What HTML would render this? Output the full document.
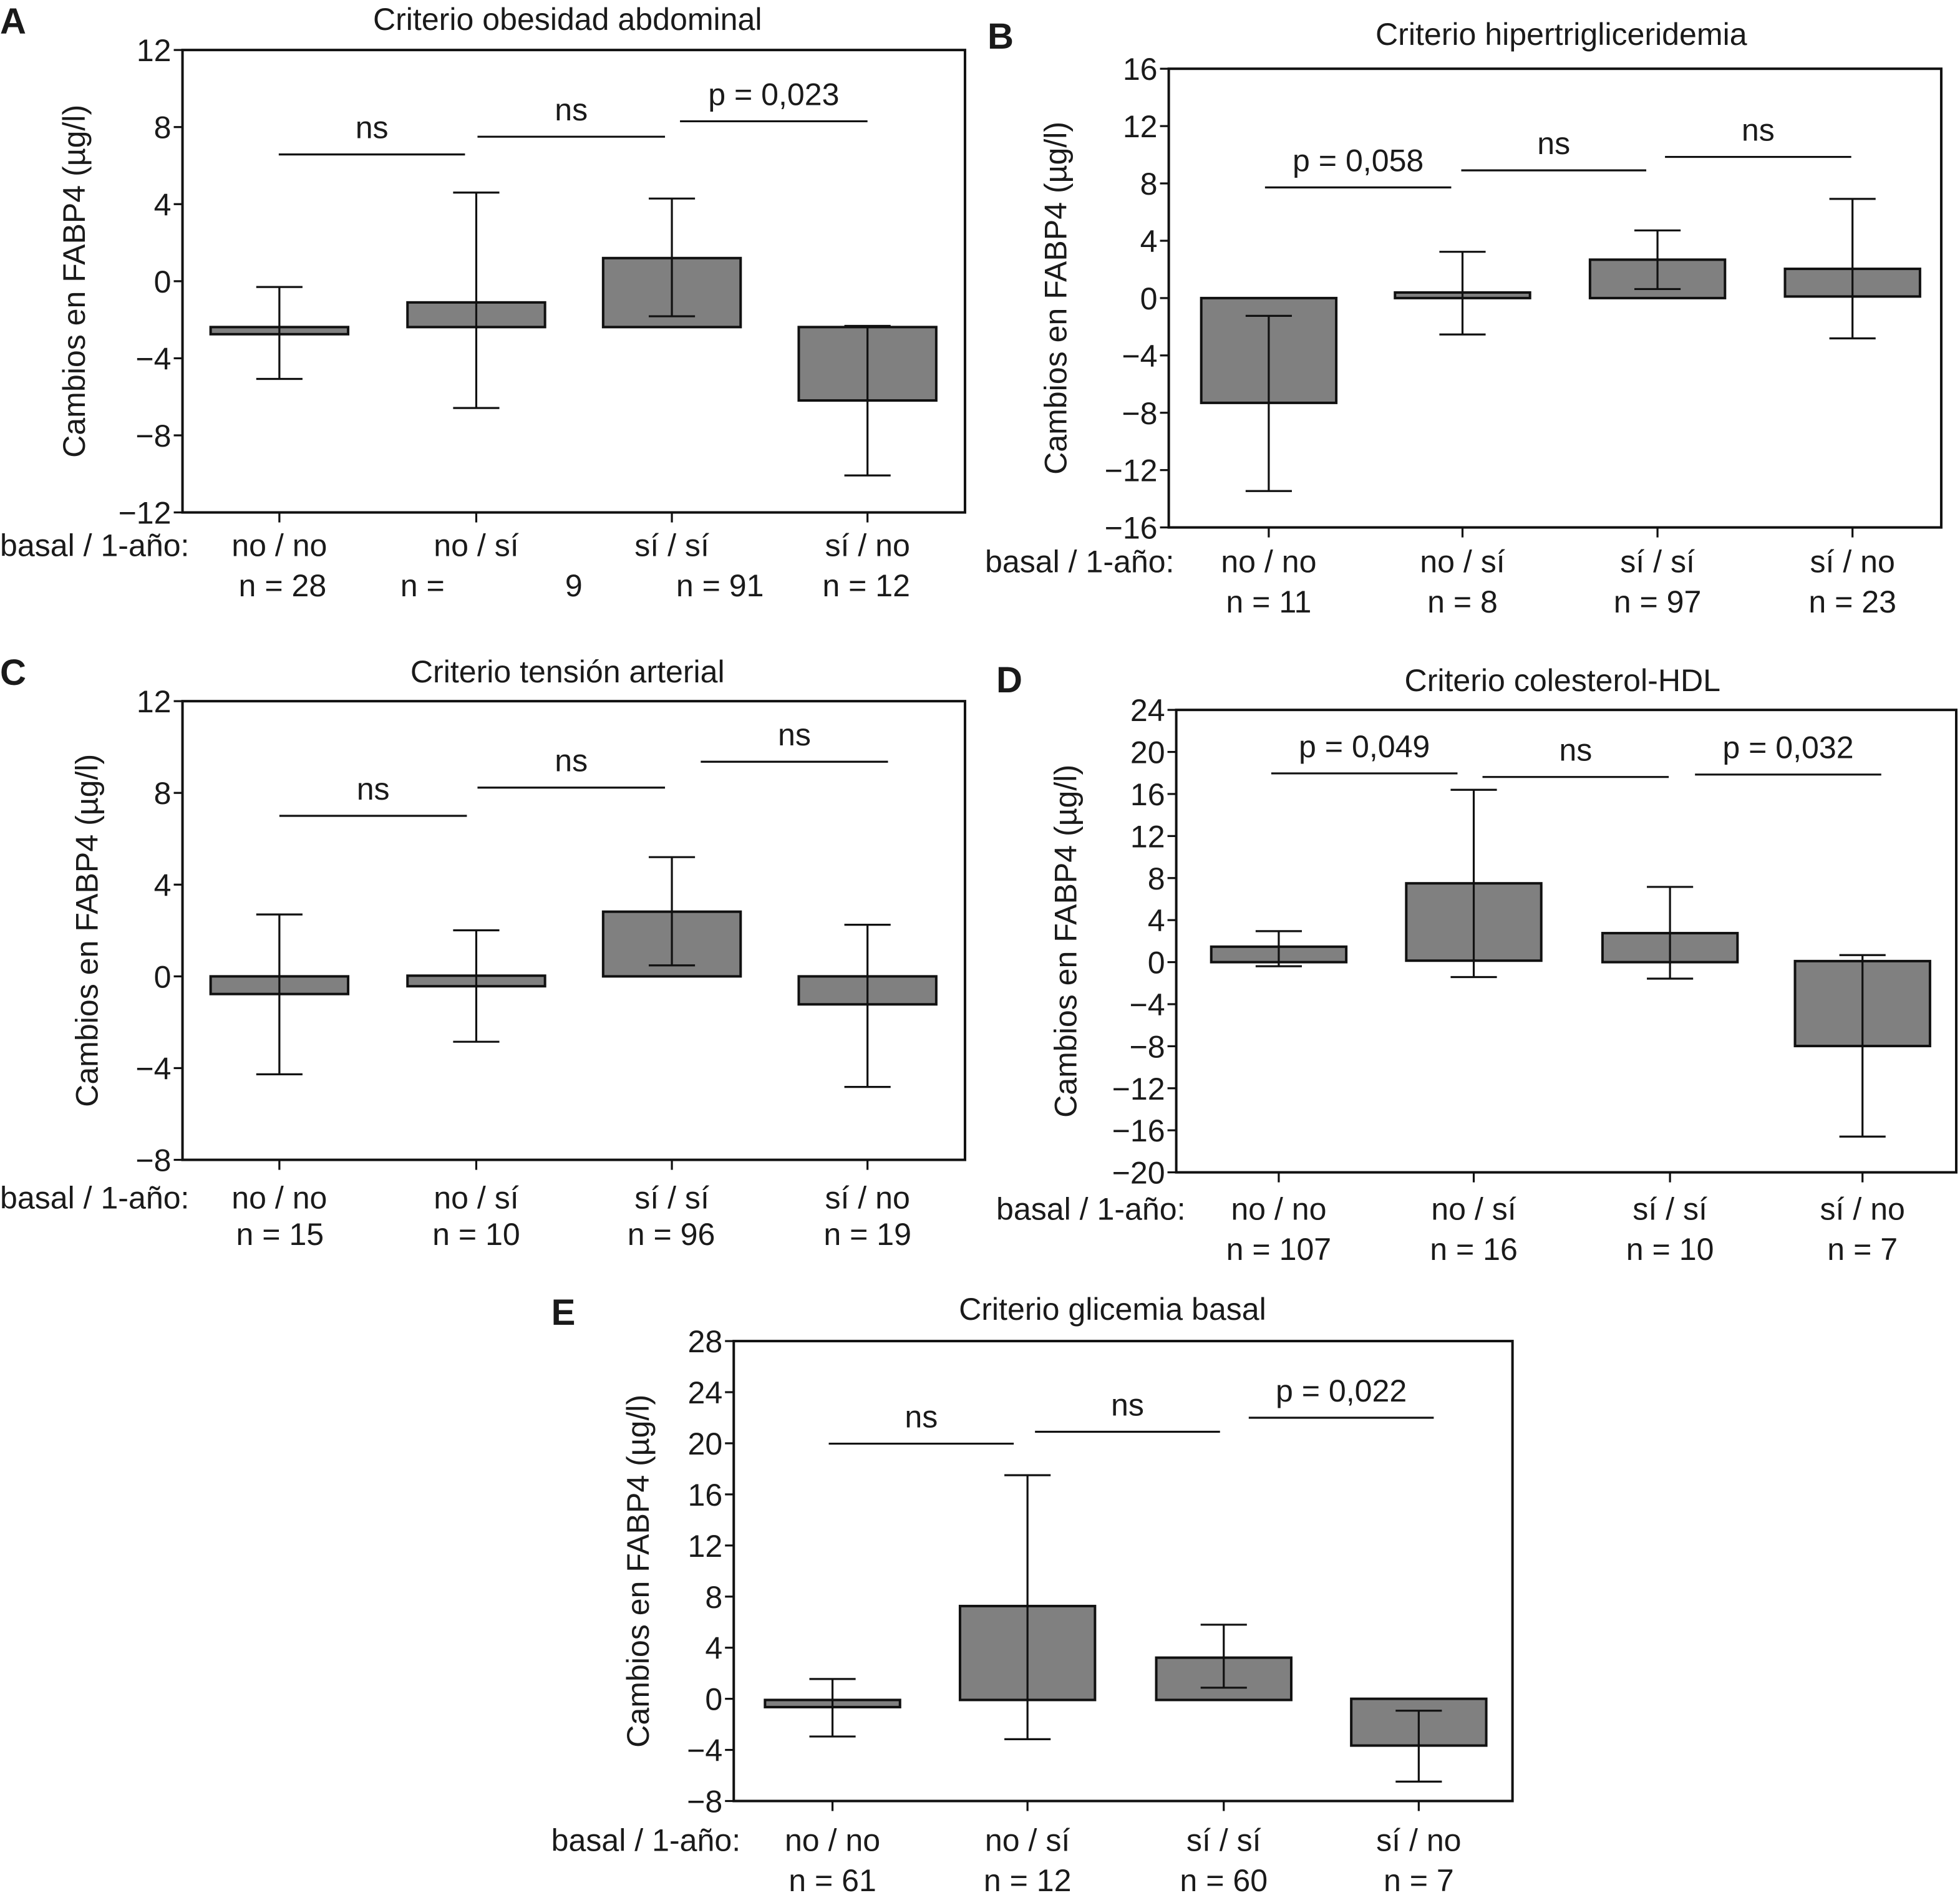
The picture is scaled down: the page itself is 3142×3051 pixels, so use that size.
<!DOCTYPE html>
<html><head><meta charset="utf-8"><style>
html,body{margin:0;padding:0;background:#fff}
svg{display:block}
text{font-family:"Liberation Sans",sans-serif;fill:#1a1a1a}
</style></head><body>
<svg id="fig" width="3142" height="3051" viewBox="0 0 1568 1522.6" preserveAspectRatio="none" xmlns="http://www.w3.org/2000/svg"></svg>
<script>
// Shared categories
const categories = ["no / no","no / sí","sí / sí","sí / no"];
// Panel A
const aBoxHigh=[-2.38,-1.1,1.2,-2.38], aBoxLow=[-2.75,-2.38,-2.38,-6.19];
const aErrHigh=[-0.3,4.6,4.29,-2.32], aErrLow=[-5.07,-6.58,-1.82,-10.08];
const aTicks=[12,8,4,0,-4,-8,-12];
const aSigY=[6.58,7.5,8.3], aSigLabels=["ns","ns","p = 0,023"];
// Panel B
const bBoxHigh=[0,0.39,2.68,2.04], bBoxLow=[-7.31,0,0,0.11];
const bErrHigh=[-1.24,3.23,4.72,6.92], bErrLow=[-13.46,-2.54,0.63,-2.81];
const bTicks=[16,12,8,4,0,-4,-8,-12,-16];
const bSigY=[7.72,8.91,9.85], bSigLabels=["p = 0,058","ns","ns"];
// Panel C
const cBoxHigh=[0,0.03,2.82,0], cBoxLow=[-0.77,-0.43,0,-1.22];
const cErrHigh=[2.7,2.01,5.2,2.25], cErrLow=[-4.27,-2.85,0.48,-4.82];
const cTicks=[12,8,4,0,-4,-8];
const cSigY=[7.0,8.23,9.36], cSigLabels=["ns","ns","ns"];
// Panel D
const dBoxHigh=[1.47,7.5,2.76,0.1], dBoxLow=[0,0.14,0,-7.98];
const dErrHigh=[2.95,16.4,7.16,0.67], dErrLow=[-0.39,-1.42,-1.57,-16.6];
const dTicks=[24,20,16,12,8,4,0,-4,-8,-12,-16,-20];
const dSigY=[17.96,17.62,17.85], dSigLabels=["p = 0,049","ns","p = 0,032"];
// Panel E
const eBoxHigh=[-0.09,7.26,3.22,0], eBoxLow=[-0.65,-0.09,-0.09,-3.66];
const eErrHigh=[1.55,17.5,5.8,-0.93], eErrLow=[-2.95,-3.16,0.87,-6.48];
const eTicks=[28,24,20,16,12,8,4,0,-4,-8];
const eSigY=[19.97,20.9,22.0], eSigLabels=["ns","ns","p = 0,022"];

const svg=document.getElementById('fig');
const NS='http://www.w3.org/2000/svg';
function mk(tag,attrs,parent,txt){const e=document.createElementNS(NS,tag);for(const k in attrs)e.setAttribute(k,attrs[k]);if(txt!==undefined)e.textContent=txt;parent.appendChild(e);return e;}

function panel(p){
  const g=mk('g',{},svg);
  
  
  const ymax=p.ticks[0], ymin=p.ticks[p.ticks.length-1];
  const Y=v=>p.top+(ymax-v)/(ymax-ymin)*(p.bottom-p.top);
  const X=i=>p.cats[i];
  const t1=mk('text',{x:p.letter[0],y:p.letter[1],'font-size':29,'font-weight':'bold'},g,p.id);
  
  
  const t2=mk('text',{x:p.title[0],y:p.title[1],'font-size':25,'text-anchor':'middle'},g,p.titleText);
  
  
  const fr=mk('rect',{x:p.left,y:p.top,width:p.right-p.left,height:p.bottom-p.top,fill:'none',stroke:'#111','stroke-width':2},g);
  
  
  p.ticks.forEach(v=>{
    const y=Y(v);
    mk('line',{x1:p.left-7,x2:p.left,y1:y,y2:y,stroke:'#111','stroke-width':1.6},g);
    const tl=mk('text',{x:p.left-9,y:y+9,'font-size':25,'text-anchor':'end'},g,(v<0?'\u2212'+(-v):String(v)));
    
    
  });
  const cy=(p.top+p.bottom)/2;
  const yt=mk('text',{x:p.ytx,y:cy,'font-size':25,'text-anchor':'middle',transform:`rotate(-90 ${p.ytx} ${cy})`},g,'Cambios en FABP4 (\u00b5g/l)');
  
  
  const bw=p.bw, cap=18.5;
  for(let i=0;i<4;i++){
    const x=X(i);
    mk('line',{x1:x,x2:x,y1:p.bottom,y2:p.bottom+8,stroke:'#111','stroke-width':1.6},g);
    const y1=Y(p.boxHigh[i]), y2=Y(p.boxLow[i]);
    const r=mk('rect',{x:x-bw/2,y:Math.min(y1,y2),width:bw,height:Math.max(Math.abs(y2-y1),1),fill:'#808080',stroke:'#111','stroke-width':2},g);
    
    
    const eh=Y(p.errHigh[i]), el=Y(p.errLow[i]);
    const eg=mk('g',{stroke:'#111','stroke-width':1.6},g);
    
    
    mk('line',{x1:x,x2:x,y1:eh,y2:el},eg);
    mk('line',{x1:x-cap,x2:x+cap,y1:eh,y2:eh},eg);
    mk('line',{x1:x-cap,x2:x+cap,y1:el,y2:el},eg);
    const cl=mk('text',{x:x,y:p.row1,'font-size':25,'text-anchor':'middle'},g,categories[i]);
    
    
  }
  p.nLabels.forEach(n=>{
    const nl=mk('text',{x:n[0],y:p.row2,'font-size':25,'text-anchor':'middle'},g,n[1]);
    
    
  });
  const bl=mk('text',{x:p.basalX,y:p.row1,'font-size':25},g,'basal / 1-año:');
  
  
  for(let i=0;i<3;i++){
    const y=Y(p.sigY[i]), xa=p.sigX[i][0], xb=p.sigX[i][1];
    const sl=mk('line',{x1:xa,x2:xb,y1:y,y2:y,stroke:'#111','stroke-width':1.6},g);
    
    
    const st=mk('text',{x:(xa+xb)/2,y:y-13,'font-size':25,'text-anchor':'middle'},g,p.sigLabels[i]);
    
    
  }
}

panel({id:'A',letter:[0,27],title:[454,24],titleText:'Criterio obesidad abdominal',left:146,right:772,top:40,bottom:410,
  cats:[223.5,381,537.5,694],bw:110,ticks:aTicks,boxHigh:aBoxHigh,boxLow:aBoxLow,errHigh:aErrHigh,errLow:aErrLow,
  sigY:aSigY,sigLabels:aSigLabels,sigX:[[223,372],[382,532],[544,694]],ytx:68,basalX:0,row1:445,row2:477,
  nLabels:[[226,'n = 28'],[338,'n ='],[459,'9'],[576,'n = 91'],[693,'n = 12']]});
panel({id:'B',letter:[790,39],title:[1249,36],titleText:'Criterio hipertrigliceridemia',left:935,right:1553,top:55,bottom:422,
  cats:[1015,1170,1326,1482],bw:108,ticks:bTicks,boxHigh:bBoxHigh,boxLow:bBoxLow,errHigh:bErrHigh,errLow:bErrLow,
  sigY:bSigY,sigLabels:bSigLabels,sigX:[[1012,1161],[1169,1317],[1332,1481]],ytx:853,basalX:788,row1:458,row2:490,
  nLabels:[[1015,'n = 11'],[1170,'n = 8'],[1326,'n = 97'],[1482,'n = 23']]});
panel({id:'C',letter:[0,548],title:[454,546],titleText:'Criterio tensión arterial',left:146,right:772,top:561,bottom:928,
  cats:[223.5,381,537.5,694],bw:110,ticks:cTicks,boxHigh:cBoxHigh,boxLow:cBoxLow,errHigh:cErrHigh,errLow:cErrLow,
  sigY:cSigY,sigLabels:cSigLabels,sigX:[[223.5,373.5],[382,532],[560.6,710.4]],ytx:78,basalX:0,row1:967,row2:996,
  nLabels:[[224,'n = 15'],[381,'n = 10'],[537,'n = 96'],[694,'n = 19']]});
panel({id:'D',letter:[797,554],title:[1250,553],titleText:'Criterio colesterol-HDL',left:941,right:1565,top:568,bottom:938,
  cats:[1023,1179,1336,1490],bw:108,ticks:dTicks,boxHigh:dBoxHigh,boxLow:dBoxLow,errHigh:dErrHigh,errLow:dErrLow,
  sigY:dSigY,sigLabels:dSigLabels,sigX:[[1017,1166],[1186,1335],[1356,1505]],ytx:861,basalX:797,row1:976,row2:1008,
  nLabels:[[1023,'n = 107'],[1179,'n = 16'],[1336,'n = 10'],[1490,'n = 7']]});
panel({id:'E',letter:[441,1060],title:[890,1056],titleText:'Criterio glicemia basal',left:587,right:1210,top:1073,bottom:1441,
  cats:[666,822,979,1135],bw:108,ticks:eTicks,boxHigh:eBoxHigh,boxLow:eBoxLow,errHigh:eErrHigh,errLow:eErrLow,
  sigY:eSigY,sigLabels:eSigLabels,sigX:[[663,811],[828,976],[999,1147]],ytx:519,basalX:441,row1:1481,row2:1513,
  nLabels:[[666,'n = 61'],[822,'n = 12'],[979,'n = 60'],[1135,'n = 7']]});
</script>
</body></html>
